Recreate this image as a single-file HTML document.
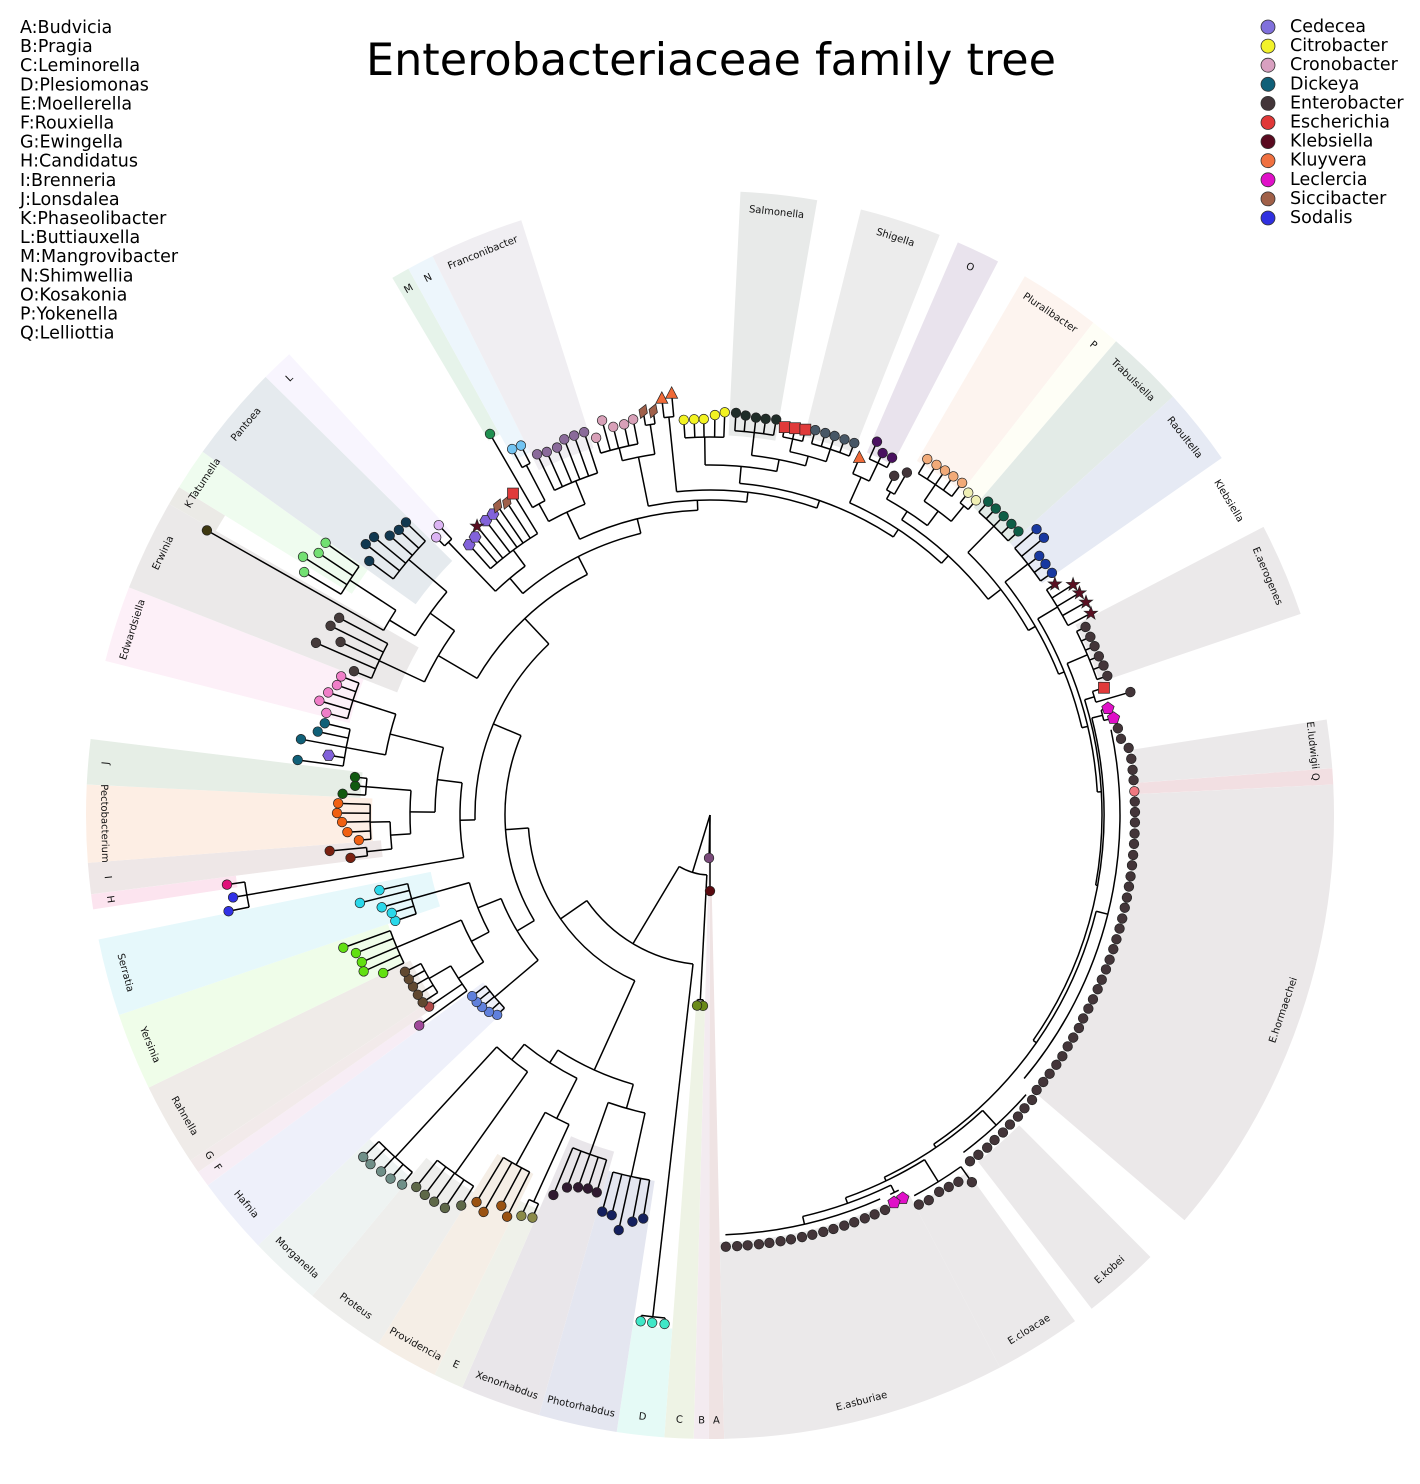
<!DOCTYPE html>
<html><head><meta charset="utf-8">
<style>
html,body{margin:0;padding:0;background:#fff;width:1420px;height:1484px;overflow:hidden;}
svg{display:block;overflow:hidden;font-family:"DejaVu Sans","Liberation Sans",sans-serif;}
.w circle{fill:none;}
.b line,.b circle{stroke:#000;stroke-width:1.5;fill:none;}
.m circle,.m use{stroke:#222;stroke-width:0.7;}
.lb text{font-size:10px;text-anchor:middle;dominant-baseline:central;fill:#111;}
.lg text{font-size:17.5px;dominant-baseline:central;fill:#000;}
</style></head><body>
<svg width="1420" height="1484" viewBox="0 0 1420 1484" xmlns="http://www.w3.org/2000/svg">
<defs>
<clipPath id="cp"><rect x="0" y="0" width="1420" height="1484"/></clipPath>
<rect id="sq" x="-5.5" y="-5.5" width="11" height="11"/>
<polygon id="tri" points="0,-7 6,4.5 -6,4.5"/>
<polygon id="dia" points="0,-7.5 4.5,0 0,7.5 -4.5,0"/>
<polygon id="star" points="0,-7 1.65,-2.27 6.66,-2.16 2.66,0.87 4.11,5.66 0,2.8 -4.11,5.66 -2.66,0.87 -6.66,-2.16 -1.65,-2.27"/>
<polygon id="hex" points="6,0 3,5.2 -3,5.2 -6,0 -3,-5.2 3,-5.2"/>
<polygon id="pent" points="0,-6.5 6.18,-2.01 3.82,5.26 -3.82,5.26 -6.18,-2.01"/>
</defs>

<text x="711" y="75" font-size="44.5" text-anchor="middle" fill="#000">Enterobacteriaceae family tree</text>

<g class="lg">
<text x="20" y="28">A:Budvicia</text>
<text x="20" y="47.1">B:Pragia</text>
<text x="20" y="66.2">C:Leminorella</text>
<text x="20" y="85.3">D:Plesiomonas</text>
<text x="20" y="104.4">E:Moellerella</text>
<text x="20" y="123.5">F:Rouxiella</text>
<text x="20" y="142.6">G:Ewingella</text>
<text x="20" y="161.7">H:Candidatus</text>
<text x="20" y="180.8">I:Brenneria</text>
<text x="20" y="199.9">J:Lonsdalea</text>
<text x="20" y="219">K:Phaseolibacter</text>
<text x="20" y="238.1">L:Buttiauxella</text>
<text x="20" y="257.2">M:Mangrovibacter</text>
<text x="20" y="276.3">N:Shimwellia</text>
<text x="20" y="295.4">O:Kosakonia</text>
<text x="20" y="314.5">P:Yokenella</text>
<text x="20" y="333.6">Q:Lelliottia</text>
</g>

<g class="lg">
<g stroke="#333" stroke-width="0.8">
<circle cx="1268" cy="27" r="7" fill="#8070dc"/>
<circle cx="1268" cy="46.1" r="7" fill="#f2f22a"/>
<circle cx="1268" cy="65.2" r="7" fill="#d8a0c0"/>
<circle cx="1268" cy="84.3" r="7" fill="#106078"/>
<circle cx="1268" cy="103.4" r="7" fill="#433539"/>
<circle cx="1268" cy="122.5" r="7" fill="#e03838"/>
<circle cx="1268" cy="141.6" r="7" fill="#5a0a20"/>
<circle cx="1268" cy="160.7" r="7" fill="#f07040"/>
<circle cx="1268" cy="179.8" r="7" fill="#e010c8"/>
<circle cx="1268" cy="198.9" r="7" fill="#a06048"/>
<circle cx="1268" cy="218" r="7" fill="#3030e0"/>
</g>
<text x="1290" y="27">Cedecea</text>
<text x="1290" y="46.1">Citrobacter</text>
<text x="1290" y="65.2">Cronobacter</text>
<text x="1290" y="84.3">Dickeya</text>
<text x="1290" y="103.4">Enterobacter</text>
<text x="1290" y="122.5">Escherichia</text>
<text x="1290" y="141.6">Klebsiella</text>
<text x="1290" y="160.7">Kluyvera</text>
<text x="1290" y="179.8">Leclercia</text>
<text x="1290" y="198.9">Siccibacter</text>
<text x="1290" y="218">Sodalis</text>
</g>

<g clip-path="url(#cp)">
<g transform="translate(710,815)">

<g class="w">
<circle r="352" stroke-width="544" stroke="#efe3e3" pathLength="360" stroke-dasharray="1.4 999" transform="rotate(88.7)"/>
<circle r="335.5" stroke-width="577" stroke="#f3ebf0" pathLength="360" stroke-dasharray="1.4 999" transform="rotate(90.1)"/>
<circle r="409.5" stroke-width="429" stroke="#eef3e5" pathLength="360" stroke-dasharray="2.7 999" transform="rotate(91.5)"/>
<circle r="569.5" stroke-width="109" stroke="#e5faf6" pathLength="360" stroke-dasharray="4.4 999" transform="rotate(94.2)"/>
<circle r="497" stroke-width="254" stroke="#e4e6f0" pathLength="360" stroke-dasharray="7.3 999" transform="rotate(98.6)"/>
<circle r="487" stroke-width="274" stroke="#e9e6ea" pathLength="360" stroke-dasharray="7.5 999" transform="rotate(105.9)"/>
<circle r="527" stroke-width="194" stroke="#eff1ea" pathLength="360" stroke-dasharray="2.8 999" transform="rotate(113.4)"/>
<circle r="512" stroke-width="224" stroke="#f5eee6" pathLength="360" stroke-dasharray="5.9 999" transform="rotate(116.2)"/>
<circle r="534.5" stroke-width="179" stroke="#eeeeec" pathLength="360" stroke-dasharray="7.5 999" transform="rotate(122.1)"/>
<circle r="547" stroke-width="154" stroke="#eef3f2" pathLength="360" stroke-dasharray="6.8 999" transform="rotate(129.6)"/>
<circle r="453" stroke-width="342" stroke="#eef0fa" pathLength="360" stroke-dasharray="7.2 999" transform="rotate(136.4)"/>
<circle r="488" stroke-width="272" stroke="#f7edf5" pathLength="360" stroke-dasharray="1.5 999" transform="rotate(143.6)"/>
<circle r="478.5" stroke-width="291" stroke="#f2eaea" pathLength="360" stroke-dasharray="1.3 999" transform="rotate(145.1)"/>
<circle r="478.5" stroke-width="291" stroke="#efebe8" pathLength="360" stroke-dasharray="7.7 999" transform="rotate(146.4)"/>
<circle r="482" stroke-width="284" stroke="#effde9" pathLength="360" stroke-dasharray="7.2 999" transform="rotate(154.1)"/>
<circle r="454.5" stroke-width="339" stroke="#e6f8fb" pathLength="360" stroke-dasharray="7.2 999" transform="rotate(161.3)"/>
<circle r="551" stroke-width="146" stroke="#fce4ef" pathLength="360" stroke-dasharray="1.4 999" transform="rotate(171.3)"/>
<circle r="477" stroke-width="294" stroke="#eee7e7" pathLength="360" stroke-dasharray="2.9 999" transform="rotate(172.7)"/>
<circle r="481" stroke-width="286" stroke="#fdeee4" pathLength="360" stroke-dasharray="7.2 999" transform="rotate(175.6)"/>
<circle r="487" stroke-width="274" stroke="#e6eee6" pathLength="360" stroke-dasharray="4.2 999" transform="rotate(182.8)"/>
<circle r="498" stroke-width="252" stroke="#fdf0f8" pathLength="360" stroke-dasharray="7.1 999" transform="rotate(194.3)"/>
<circle r="480" stroke-width="288" stroke="#ebe9e9" pathLength="360" stroke-dasharray="8.5 999" transform="rotate(201.4)"/>
<circle r="597" stroke-width="54" stroke="#ebeae6" pathLength="360" stroke-dasharray="1.8 999" transform="rotate(209.9)"/>
<circle r="522.5" stroke-width="203" stroke="#effcef" pathLength="360" stroke-dasharray="3.9 999" transform="rotate(211.7)"/>
<circle r="493" stroke-width="262" stroke="#e5eaee" pathLength="360" stroke-dasharray="9 999" transform="rotate(215.6)"/>
<circle r="504.5" stroke-width="239" stroke="#f8f5fe" pathLength="360" stroke-dasharray="3 999" transform="rotate(224.6)"/>
<circle r="529.5" stroke-width="189" stroke="#e6f3ea" pathLength="360" stroke-dasharray="1.7 999" transform="rotate(239.4)"/>
<circle r="514.5" stroke-width="219" stroke="#edf6fc" pathLength="360" stroke-dasharray="2.5 999" transform="rotate(241.1)"/>
<circle r="504.5" stroke-width="239" stroke="#f0eef2" pathLength="360" stroke-dasharray="8.8 999" transform="rotate(243.6)"/>
<circle r="502" stroke-width="244" stroke="#e8eae9" pathLength="360" stroke-dasharray="7.1 999" transform="rotate(272.8)"/>
<circle r="507" stroke-width="234" stroke="#ececec" pathLength="360" stroke-dasharray="7.6 999" transform="rotate(284)"/>
<circle r="509.5" stroke-width="229" stroke="#e9e3ed" pathLength="360" stroke-dasharray="4.1 999" transform="rotate(293.4)"/>
<circle r="517" stroke-width="214" stroke="#fdf4ef" pathLength="360" stroke-dasharray="7.6 999" transform="rotate(300.3)"/>
<circle r="514.5" stroke-width="219" stroke="#fefef6" pathLength="360" stroke-dasharray="2.7 999" transform="rotate(307.9)"/>
<circle r="514.5" stroke-width="219" stroke="#e3ebe7" pathLength="360" stroke-dasharray="7.3 999" transform="rotate(310.6)"/>
<circle r="514.5" stroke-width="219" stroke="#e6eaf4" pathLength="360" stroke-dasharray="7.2 999" transform="rotate(317.9)"/>
<circle r="518" stroke-width="212" stroke="#ebe9ea" pathLength="360" stroke-dasharray="8.7 999" transform="rotate(332.5)"/>
<circle r="526" stroke-width="196" stroke="#ebe9ea" pathLength="360" stroke-dasharray="4.5 999" transform="rotate(351.2)"/>
<circle r="526" stroke-width="196" stroke="#f2dfe2" pathLength="360" stroke-dasharray="1.5 999" transform="rotate(355.7)"/>
<circle r="524" stroke-width="200" stroke="#ebe8e9" pathLength="360" stroke-dasharray="43.3 999" transform="rotate(357.2)"/>
<circle r="531" stroke-width="186" stroke="#ebe9ea" pathLength="360" stroke-dasharray="7.2 999" transform="rotate(405.1)"/>
<circle r="532" stroke-width="184" stroke="#ebe9ea" pathLength="360" stroke-dasharray="8.1 999" transform="rotate(414.2)"/>
<circle r="525.5" stroke-width="197" stroke="#ebe9ea" pathLength="360" stroke-dasharray="26.4 999" transform="rotate(422.3)"/>
</g>

<g class="b">
<line x1="0" x2="76" transform="rotate(90)"/>
<line x1="0" x2="43" transform="rotate(91.3)"/>
<line x1="0" x2="60" transform="rotate(107)"/>
<circle r="60" pathLength="360" stroke-dasharray="27.9 999" transform="rotate(93)"/>
<line x1="60" x2="185" transform="rotate(93)"/>
<line x1="60" x2="150" transform="rotate(120.9)"/>
<circle r="185" pathLength="360" stroke-dasharray="1.8 999" transform="rotate(92.1)"/>
<line x1="185" x2="191" transform="rotate(92.1)"/>
<line x1="185" x2="191" transform="rotate(93.9)"/>
<circle r="150" pathLength="360" stroke-dasharray="48.7 999" transform="rotate(96.5)"/>
<line x1="150" x2="505" transform="rotate(96.5)"/>
<line x1="150" x2="182" transform="rotate(145.2)"/>
<circle r="505" pathLength="360" stroke-dasharray="2.7 999" transform="rotate(95.1)"/>
<line x1="505" x2="511" transform="rotate(95.1)"/>
<line x1="505" x2="511" transform="rotate(97.8)"/>
<circle r="182" pathLength="360" stroke-dasharray="61.5 999" transform="rotate(114.4)"/>
<line x1="182" x2="280" transform="rotate(114.4)"/>
<line x1="182" x2="205" transform="rotate(175.9)"/>
<circle r="280" pathLength="360" stroke-dasharray="17 999" transform="rotate(105.9)"/>
<line x1="280" x2="305" transform="rotate(105.9)"/>
<line x1="280" x2="295" transform="rotate(122.9)"/>
<circle r="305" pathLength="360" stroke-dasharray="7.2 999" transform="rotate(102.3)"/>
<line x1="305" x2="370" transform="rotate(102.3)"/>
<line x1="305" x2="360" transform="rotate(109.5)"/>
<circle r="370" pathLength="360" stroke-dasharray="5.8 999" transform="rotate(99.4)"/>
<line x1="370" x2="409" transform="rotate(99.4)"/>
<line x1="370" x2="414" transform="rotate(100.8)"/>
<line x1="370" x2="425" transform="rotate(102.4)"/>
<line x1="370" x2="412" transform="rotate(103.8)"/>
<line x1="370" x2="411" transform="rotate(105.2)"/>
<circle r="360" pathLength="360" stroke-dasharray="5.7 999" transform="rotate(106.7)"/>
<line x1="360" x2="394" transform="rotate(106.7)"/>
<line x1="360" x2="393" transform="rotate(108.1)"/>
<line x1="360" x2="395" transform="rotate(109.5)"/>
<line x1="360" x2="399" transform="rotate(111)"/>
<line x1="360" x2="411" transform="rotate(112.4)"/>
<circle r="295" pathLength="360" stroke-dasharray="12.2 999" transform="rotate(116.8)"/>
<line x1="295" x2="340" transform="rotate(116.8)"/>
<line x1="295" x2="315" transform="rotate(129)"/>
<circle r="340" pathLength="360" stroke-dasharray="4.5 999" transform="rotate(114.5)"/>
<line x1="340" x2="425" transform="rotate(114.5)"/>
<line x1="340" x2="400" transform="rotate(119)"/>
<circle r="425" pathLength="360" stroke-dasharray="1.4 999" transform="rotate(113.8)"/>
<line x1="425" x2="440" transform="rotate(113.8)"/>
<line x1="425" x2="443" transform="rotate(115.2)"/>
<circle r="400" pathLength="360" stroke-dasharray="4.3 999" transform="rotate(116.8)"/>
<line x1="400" x2="450" transform="rotate(116.8)"/>
<line x1="400" x2="443" transform="rotate(118.1)"/>
<line x1="400" x2="457" transform="rotate(119.7)"/>
<line x1="400" x2="452" transform="rotate(121.1)"/>
<circle r="315" pathLength="360" stroke-dasharray="7.2 999" transform="rotate(125.4)"/>
<line x1="315" x2="440" transform="rotate(125.4)"/>
<line x1="315" x2="465" transform="rotate(132.6)"/>
<circle r="440" pathLength="360" stroke-dasharray="5.8 999" transform="rotate(122.5)"/>
<line x1="440" x2="463" transform="rotate(122.5)"/>
<line x1="440" x2="474" transform="rotate(124)"/>
<line x1="440" x2="475" transform="rotate(125.5)"/>
<line x1="440" x2="475" transform="rotate(126.9)"/>
<line x1="440" x2="474" transform="rotate(128.3)"/>
<circle r="465" pathLength="360" stroke-dasharray="5.6 999" transform="rotate(129.8)"/>
<line x1="465" x2="481" transform="rotate(129.8)"/>
<line x1="465" x2="484" transform="rotate(131.3)"/>
<line x1="465" x2="485" transform="rotate(132.7)"/>
<line x1="465" x2="487" transform="rotate(134.2)"/>
<line x1="465" x2="487" transform="rotate(135.4)"/>
<circle r="205" pathLength="360" stroke-dasharray="53.8 999" transform="rotate(149)"/>
<line x1="205" x2="225" transform="rotate(149)"/>
<line x1="205" x2="235" transform="rotate(202.8)"/>
<circle r="225" pathLength="360" stroke-dasharray="18.4 999" transform="rotate(139.8)"/>
<line x1="225" x2="282" transform="rotate(139.8)"/>
<line x1="225" x2="250" transform="rotate(158.2)"/>
<circle r="282" pathLength="360" stroke-dasharray="5.9 999" transform="rotate(136.8)"/>
<line x1="282" x2="292" transform="rotate(136.8)"/>
<line x1="282" x2="296" transform="rotate(138.3)"/>
<line x1="282" x2="298" transform="rotate(139.9)"/>
<line x1="282" x2="299" transform="rotate(141.3)"/>
<line x1="282" x2="299" transform="rotate(142.7)"/>
<circle r="250" pathLength="360" stroke-dasharray="12.2 999" transform="rotate(152.1)"/>
<line x1="250" x2="270" transform="rotate(152.1)"/>
<line x1="250" x2="310" transform="rotate(164.3)"/>
<circle r="310" pathLength="360" stroke-dasharray="5.8 999" transform="rotate(161.4)"/>
<line x1="310" x2="332" transform="rotate(161.4)"/>
<line x1="310" x2="333" transform="rotate(162.9)"/>
<line x1="310" x2="341" transform="rotate(164.3)"/>
<line x1="310" x2="361" transform="rotate(165.9)"/>
<line x1="310" x2="339" transform="rotate(167.2)"/>
<circle r="270" pathLength="360" stroke-dasharray="10.1 999" transform="rotate(147)"/>
<line x1="270" x2="300" transform="rotate(147)"/>
<line x1="270" x2="340" transform="rotate(157.1)"/>
<circle r="340" pathLength="360" stroke-dasharray="5.9 999" transform="rotate(154.2)"/>
<line x1="340" x2="363" transform="rotate(154.2)"/>
<line x1="340" x2="380" transform="rotate(155.7)"/>
<line x1="340" x2="378" transform="rotate(157.1)"/>
<line x1="340" x2="380" transform="rotate(158.7)"/>
<line x1="340" x2="390" transform="rotate(160.1)"/>
<circle r="300" pathLength="360" stroke-dasharray="5.7 999" transform="rotate(144.1)"/>
<line x1="300" x2="359" transform="rotate(144.1)"/>
<line x1="300" x2="340" transform="rotate(145.7)"/>
<line x1="300" x2="325" transform="rotate(149.8)"/>
<circle r="325" pathLength="360" stroke-dasharray="5.9 999" transform="rotate(146.9)"/>
<line x1="325" x2="343" transform="rotate(146.9)"/>
<line x1="325" x2="343" transform="rotate(148.4)"/>
<line x1="325" x2="343" transform="rotate(150)"/>
<line x1="325" x2="343" transform="rotate(151.4)"/>
<line x1="325" x2="343" transform="rotate(152.8)"/>
<circle r="235" pathLength="360" stroke-dasharray="47.9 999" transform="rotate(178.8)"/>
<line x1="235" x2="250" transform="rotate(178.8)"/>
<line x1="235" x2="270" transform="rotate(226.7)"/>
<circle r="250" pathLength="360" stroke-dasharray="17.2 999" transform="rotate(170.2)"/>
<line x1="250" x2="470" transform="rotate(170.2)"/>
<line x1="250" x2="275" transform="rotate(187.4)"/>
<circle r="470" pathLength="360" stroke-dasharray="3.1 999" transform="rotate(168.7)"/>
<line x1="470" x2="491" transform="rotate(168.7)"/>
<line x1="470" x2="484" transform="rotate(170.2)"/>
<line x1="470" x2="488" transform="rotate(171.8)"/>
<circle r="275" pathLength="360" stroke-dasharray="13.6 999" transform="rotate(180.6)"/>
<line x1="275" x2="300" transform="rotate(180.6)"/>
<line x1="275" x2="330" transform="rotate(194.2)"/>
<circle r="300" pathLength="360" stroke-dasharray="8.3 999" transform="rotate(176.4)"/>
<line x1="300" x2="320" transform="rotate(176.4)"/>
<line x1="300" x2="345" transform="rotate(184.7)"/>
<circle r="320" pathLength="360" stroke-dasharray="4.9 999" transform="rotate(173.9)"/>
<line x1="320" x2="345" transform="rotate(173.9)"/>
<line x1="320" x2="340" transform="rotate(178.8)"/>
<circle r="345" pathLength="360" stroke-dasharray="1.4 999" transform="rotate(173.2)"/>
<line x1="345" x2="362" transform="rotate(173.2)"/>
<line x1="345" x2="382" transform="rotate(174.6)"/>
<circle r="340" pathLength="360" stroke-dasharray="5.9 999" transform="rotate(175.9)"/>
<line x1="340" x2="352" transform="rotate(175.9)"/>
<line x1="340" x2="363" transform="rotate(177.3)"/>
<line x1="340" x2="368" transform="rotate(178.9)"/>
<line x1="340" x2="373" transform="rotate(180.3)"/>
<line x1="340" x2="372" transform="rotate(181.8)"/>
<circle r="345" pathLength="360" stroke-dasharray="2.8 999" transform="rotate(183.3)"/>
<line x1="345" x2="368" transform="rotate(183.3)"/>
<line x1="345" x2="356" transform="rotate(184.7)"/>
<line x1="345" x2="357" transform="rotate(186.1)"/>
<circle r="330" pathLength="360" stroke-dasharray="7.3 999" transform="rotate(190.5)"/>
<line x1="330" x2="370" transform="rotate(190.5)"/>
<line x1="330" x2="375" transform="rotate(197.8)"/>
<circle r="370" pathLength="360" stroke-dasharray="5.8 999" transform="rotate(187.6)"/>
<line x1="370" x2="416" transform="rotate(187.6)"/>
<line x1="370" x2="386" transform="rotate(188.9)"/>
<line x1="370" x2="416" transform="rotate(190.5)"/>
<line x1="370" x2="401" transform="rotate(192)"/>
<line x1="370" x2="396" transform="rotate(193.4)"/>
<circle r="375" pathLength="360" stroke-dasharray="5.7 999" transform="rotate(194.9)"/>
<line x1="375" x2="397" transform="rotate(194.9)"/>
<line x1="375" x2="407" transform="rotate(196.3)"/>
<line x1="375" x2="401" transform="rotate(197.8)"/>
<line x1="375" x2="395" transform="rotate(199.2)"/>
<line x1="375" x2="394" transform="rotate(200.6)"/>
<circle r="270" pathLength="360" stroke-dasharray="32.6 999" transform="rotate(210.4)"/>
<line x1="270" x2="315" transform="rotate(210.4)"/>
<line x1="270" x2="290" transform="rotate(243)"/>
<circle r="315" pathLength="360" stroke-dasharray="10.8 999" transform="rotate(205)"/>
<line x1="315" x2="365" transform="rotate(205)"/>
<line x1="315" x2="345" transform="rotate(215.8)"/>
<circle r="365" pathLength="360" stroke-dasharray="6 999" transform="rotate(202)"/>
<line x1="365" x2="384" transform="rotate(202)"/>
<line x1="365" x2="430" transform="rotate(203.6)"/>
<line x1="365" x2="408" transform="rotate(205.1)"/>
<line x1="365" x2="424" transform="rotate(206.5)"/>
<line x1="365" x2="420" transform="rotate(208)"/>
<circle r="345" pathLength="360" stroke-dasharray="9 999" transform="rotate(211.3)"/>
<line x1="345" x2="375" transform="rotate(211.3)"/>
<line x1="345" x2="395" transform="rotate(220.3)"/>
<circle r="375" pathLength="360" stroke-dasharray="3.6 999" transform="rotate(209.5)"/>
<line x1="375" x2="578" transform="rotate(209.5)"/>
<line x1="375" x2="430" transform="rotate(213.1)"/>
<circle r="430" pathLength="360" stroke-dasharray="4.4 999" transform="rotate(210.9)"/>
<line x1="430" x2="473" transform="rotate(210.9)"/>
<line x1="430" x2="482" transform="rotate(212.4)"/>
<line x1="430" x2="471" transform="rotate(213.8)"/>
<line x1="430" x2="471" transform="rotate(215.3)"/>
<circle r="395" pathLength="360" stroke-dasharray="7.2 999" transform="rotate(216.7)"/>
<line x1="395" x2="425" transform="rotate(216.7)"/>
<line x1="395" x2="438" transform="rotate(218.2)"/>
<line x1="395" x2="436" transform="rotate(219.6)"/>
<line x1="395" x2="425" transform="rotate(221.1)"/>
<line x1="395" x2="422" transform="rotate(222.5)"/>
<line x1="395" x2="422" transform="rotate(223.9)"/>
<circle r="290" pathLength="360" stroke-dasharray="26.4 999" transform="rotate(229.8)"/>
<line x1="290" x2="310" transform="rotate(229.8)"/>
<line x1="290" x2="305" transform="rotate(256.2)"/>
<circle r="310" pathLength="360" stroke-dasharray="7.2 999" transform="rotate(226.2)"/>
<line x1="310" x2="378" transform="rotate(226.2)"/>
<line x1="310" x2="330" transform="rotate(233.4)"/>
<circle r="378" pathLength="360" stroke-dasharray="1.5 999" transform="rotate(225.4)"/>
<line x1="378" x2="390" transform="rotate(225.4)"/>
<line x1="378" x2="397" transform="rotate(226.9)"/>
<circle r="330" pathLength="360" stroke-dasharray="10.2 999" transform="rotate(228.3)"/>
<line x1="330" x2="362" transform="rotate(228.3)"/>
<line x1="330" x2="364" transform="rotate(229.8)"/>
<line x1="330" x2="371" transform="rotate(231.1)"/>
<line x1="330" x2="370" transform="rotate(232.7)"/>
<line x1="330" x2="371" transform="rotate(234.2)"/>
<line x1="330" x2="375" transform="rotate(235.5)"/>
<line x1="330" x2="373" transform="rotate(237)"/>
<line x1="330" x2="377" transform="rotate(238.5)"/>
<circle r="305" pathLength="360" stroke-dasharray="23 999" transform="rotate(244.7)"/>
<line x1="305" x2="335" transform="rotate(244.7)"/>
<line x1="305" x2="315" transform="rotate(267.7)"/>
<circle r="335" pathLength="360" stroke-dasharray="6.9 999" transform="rotate(241.2)"/>
<line x1="335" x2="355" transform="rotate(241.2)"/>
<line x1="335" x2="360" transform="rotate(248.1)"/>
<circle r="355" pathLength="360" stroke-dasharray="2.3 999" transform="rotate(240)"/>
<line x1="355" x2="440" transform="rotate(240)"/>
<line x1="355" x2="395" transform="rotate(242.3)"/>
<circle r="395" pathLength="360" stroke-dasharray="1.3 999" transform="rotate(241.6)"/>
<line x1="395" x2="416" transform="rotate(241.6)"/>
<line x1="395" x2="415" transform="rotate(242.9)"/>
<circle r="360" pathLength="360" stroke-dasharray="7.4 999" transform="rotate(244.4)"/>
<line x1="360" x2="400" transform="rotate(244.4)"/>
<line x1="360" x2="398" transform="rotate(245.8)"/>
<line x1="360" x2="398" transform="rotate(247.4)"/>
<line x1="360" x2="403" transform="rotate(248.8)"/>
<line x1="360" x2="403" transform="rotate(250.3)"/>
<line x1="360" x2="403" transform="rotate(251.8)"/>
<circle r="315" pathLength="360" stroke-dasharray="18 999" transform="rotate(258.7)"/>
<line x1="315" x2="365" transform="rotate(258.7)"/>
<line x1="315" x2="325" transform="rotate(276.7)"/>
<circle r="365" pathLength="360" stroke-dasharray="5.2 999" transform="rotate(256.1)"/>
<line x1="365" x2="378" transform="rotate(256.1)"/>
<line x1="365" x2="395" transform="rotate(261.3)"/>
<circle r="378" pathLength="360" stroke-dasharray="5.8 999" transform="rotate(253.2)"/>
<line x1="378" x2="394" transform="rotate(253.2)"/>
<line x1="378" x2="409" transform="rotate(254.7)"/>
<line x1="378" x2="400" transform="rotate(256)"/>
<line x1="378" x2="400" transform="rotate(257.6)"/>
<line x1="378" x2="403" transform="rotate(259)"/>
<circle r="395" pathLength="360" stroke-dasharray="1.4 999" transform="rotate(260.6)"/>
<line x1="395" x2="409" transform="rotate(260.6)"/>
<line x1="395" x2="408" transform="rotate(262)"/>
<circle r="325" pathLength="360" stroke-dasharray="25.1 999" transform="rotate(264.1)"/>
<line x1="325" x2="400" transform="rotate(264.1)"/>
<line x1="325" x2="333" transform="rotate(289.2)"/>
<circle r="400" pathLength="360" stroke-dasharray="1.4 999" transform="rotate(263.4)"/>
<line x1="400" x2="419" transform="rotate(263.4)"/>
<line x1="400" x2="423" transform="rotate(264.8)"/>
<circle r="333" pathLength="360" stroke-dasharray="28.3 999" transform="rotate(275.1)"/>
<line x1="333" x2="350" transform="rotate(275.1)"/>
<line x1="333" x2="342" transform="rotate(303.4)"/>
<circle r="350" pathLength="360" stroke-dasharray="11.8 999" transform="rotate(269.2)"/>
<line x1="350" x2="378" transform="rotate(269.2)"/>
<line x1="350" x2="362" transform="rotate(281)"/>
<circle r="378" pathLength="360" stroke-dasharray="5.9 999" transform="rotate(266.2)"/>
<line x1="378" x2="396" transform="rotate(266.2)"/>
<line x1="378" x2="396" transform="rotate(267.7)"/>
<line x1="378" x2="396" transform="rotate(269.1)"/>
<line x1="378" x2="400" transform="rotate(270.7)"/>
<line x1="378" x2="403" transform="rotate(272.1)"/>
<circle r="362" pathLength="360" stroke-dasharray="8.7 999" transform="rotate(276.6)"/>
<line x1="362" x2="385" transform="rotate(276.6)"/>
<line x1="362" x2="372" transform="rotate(285.3)"/>
<circle r="385" pathLength="360" stroke-dasharray="5.8 999" transform="rotate(273.7)"/>
<line x1="385" x2="403" transform="rotate(273.7)"/>
<line x1="385" x2="401" transform="rotate(275.1)"/>
<line x1="385" x2="400" transform="rotate(276.6)"/>
<line x1="385" x2="400" transform="rotate(278)"/>
<line x1="385" x2="401" transform="rotate(279.5)"/>
<circle r="372" pathLength="360" stroke-dasharray="5.8 999" transform="rotate(282.4)"/>
<line x1="372" x2="385" transform="rotate(282.4)"/>
<line x1="372" x2="385" transform="rotate(288.2)"/>
<circle r="385" pathLength="360" stroke-dasharray="3 999" transform="rotate(280.9)"/>
<line x1="385" x2="396" transform="rotate(280.9)"/>
<line x1="385" x2="396" transform="rotate(282.4)"/>
<line x1="385" x2="397" transform="rotate(283.9)"/>
<circle r="385" pathLength="360" stroke-dasharray="5.9 999" transform="rotate(285.3)"/>
<line x1="385" x2="399" transform="rotate(285.3)"/>
<line x1="385" x2="399" transform="rotate(286.8)"/>
<line x1="385" x2="399" transform="rotate(288.2)"/>
<line x1="385" x2="399" transform="rotate(289.7)"/>
<line x1="385" x2="399" transform="rotate(291.2)"/>
<circle r="342" pathLength="360" stroke-dasharray="18.5 999" transform="rotate(294.1)"/>
<line x1="342" x2="370" transform="rotate(294.1)"/>
<line x1="342" x2="352" transform="rotate(312.6)"/>
<circle r="370" pathLength="360" stroke-dasharray="2.8 999" transform="rotate(292.7)"/>
<line x1="370" x2="387" transform="rotate(292.7)"/>
<line x1="370" x2="390" transform="rotate(295.5)"/>
<circle r="390" pathLength="360" stroke-dasharray="2.9 999" transform="rotate(294.1)"/>
<line x1="390" x2="409" transform="rotate(294.1)"/>
<line x1="390" x2="401" transform="rotate(295.5)"/>
<line x1="390" x2="401" transform="rotate(297)"/>
<circle r="352" pathLength="360" stroke-dasharray="19.2 999" transform="rotate(303)"/>
<line x1="352" x2="362" transform="rotate(303)"/>
<line x1="352" x2="368" transform="rotate(322.2)"/>
<circle r="362" pathLength="360" stroke-dasharray="7.7 999" transform="rotate(299.2)"/>
<line x1="362" x2="370" transform="rotate(299.2)"/>
<line x1="362" x2="380" transform="rotate(306.9)"/>
<circle r="370" pathLength="360" stroke-dasharray="1.4 999" transform="rotate(298.5)"/>
<line x1="370" x2="386" transform="rotate(298.5)"/>
<line x1="370" x2="395" transform="rotate(299.9)"/>
<circle r="380" pathLength="360" stroke-dasharray="5.1 999" transform="rotate(304.3)"/>
<line x1="380" x2="400" transform="rotate(304.3)"/>
<line x1="380" x2="400" transform="rotate(309.4)"/>
<circle r="400" pathLength="360" stroke-dasharray="5.8 999" transform="rotate(301.4)"/>
<line x1="400" x2="417" transform="rotate(301.4)"/>
<line x1="400" x2="417" transform="rotate(302.9)"/>
<line x1="400" x2="417" transform="rotate(304.3)"/>
<line x1="400" x2="417" transform="rotate(305.7)"/>
<line x1="400" x2="417" transform="rotate(307.2)"/>
<circle r="400" pathLength="360" stroke-dasharray="1.5 999" transform="rotate(308.7)"/>
<line x1="400" x2="413" transform="rotate(308.7)"/>
<line x1="400" x2="412" transform="rotate(310.2)"/>
<circle r="368" pathLength="360" stroke-dasharray="15.4 999" transform="rotate(314.5)"/>
<line x1="368" x2="405" transform="rotate(314.5)"/>
<line x1="368" x2="376" transform="rotate(329.9)"/>
<circle r="405" pathLength="360" stroke-dasharray="5.8 999" transform="rotate(311.6)"/>
<line x1="405" x2="419" transform="rotate(311.6)"/>
<line x1="405" x2="419" transform="rotate(313)"/>
<line x1="405" x2="419" transform="rotate(314.5)"/>
<line x1="405" x2="419" transform="rotate(316)"/>
<line x1="405" x2="419" transform="rotate(317.4)"/>
<circle r="376" pathLength="360" stroke-dasharray="16.3 999" transform="rotate(321.7)"/>
<line x1="376" x2="405" transform="rotate(321.7)"/>
<line x1="376" x2="382" transform="rotate(338)"/>
<circle r="405" pathLength="360" stroke-dasharray="5.9 999" transform="rotate(318.8)"/>
<line x1="405" x2="434" transform="rotate(318.8)"/>
<line x1="405" x2="434" transform="rotate(320.3)"/>
<line x1="405" x2="419" transform="rotate(321.8)"/>
<line x1="405" x2="419" transform="rotate(323.2)"/>
<line x1="405" x2="419" transform="rotate(324.7)"/>
<circle r="382" pathLength="360" stroke-dasharray="17.7 999" transform="rotate(329.1)"/>
<line x1="382" x2="405" transform="rotate(329.1)"/>
<line x1="382" x2="388" transform="rotate(346.8)"/>
<circle r="405" pathLength="360" stroke-dasharray="5.9 999" transform="rotate(326.2)"/>
<line x1="405" x2="415" transform="rotate(326.2)"/>
<line x1="405" x2="430" transform="rotate(327.6)"/>
<line x1="405" x2="431" transform="rotate(329)"/>
<line x1="405" x2="432" transform="rotate(330.5)"/>
<line x1="405" x2="431" transform="rotate(332.1)"/>
<circle r="388" pathLength="360" stroke-dasharray="19.6 999" transform="rotate(337)"/>
<line x1="388" x2="410" transform="rotate(337)"/>
<line x1="388" x2="392" transform="rotate(356.6)"/>
<circle r="410" pathLength="360" stroke-dasharray="7.3 999" transform="rotate(333.4)"/>
<line x1="410" x2="420" transform="rotate(333.4)"/>
<line x1="410" x2="420" transform="rotate(334.9)"/>
<line x1="410" x2="420" transform="rotate(336.3)"/>
<line x1="410" x2="420" transform="rotate(337.8)"/>
<line x1="410" x2="420" transform="rotate(339.2)"/>
<line x1="410" x2="420" transform="rotate(340.7)"/>
<circle r="392" pathLength="360" stroke-dasharray="27.4 999" transform="rotate(342.9)"/>
<line x1="392" x2="402" transform="rotate(342.9)"/>
<line x1="392" x2="394" transform="rotate(370.3)"/>
<circle r="402" pathLength="360" stroke-dasharray="1.6 999" transform="rotate(342.1)"/>
<line x1="402" x2="414" transform="rotate(342.1)"/>
<line x1="402" x2="438" transform="rotate(343.7)"/>
<circle r="394" pathLength="360" stroke-dasharray="49.15 999" transform="rotate(345.75)"/>
<line x1="394" x2="405" transform="rotate(345.75)"/>
<line x1="394" x2="398" transform="rotate(394.9)"/>
<circle r="405" pathLength="360" stroke-dasharray="1.5 999" transform="rotate(345)"/>
<line x1="405" x2="412" transform="rotate(345)"/>
<line x1="405" x2="415" transform="rotate(346.5)"/>
<circle r="398" pathLength="360" stroke-dasharray="41.8 999" transform="rotate(374)"/>
<line x1="398" x2="410" transform="rotate(374)"/>
<line x1="398" x2="402" transform="rotate(415.8)"/>
<circle r="410" pathLength="360" stroke-dasharray="52 999" transform="rotate(348)"/>
<circle r="402" pathLength="360" stroke-dasharray="17 999" transform="rotate(407.3)"/>
<line x1="402" x2="422" transform="rotate(407.3)"/>
<line x1="402" x2="406" transform="rotate(424.3)"/>
<circle r="422" pathLength="360" stroke-dasharray="11.6 999" transform="rotate(401.5)"/>
<circle r="406" pathLength="360" stroke-dasharray="12.4 999" transform="rotate(418.1)"/>
<line x1="406" x2="432" transform="rotate(418.1)"/>
<line x1="406" x2="412" transform="rotate(430.5)"/>
<circle r="432" pathLength="360" stroke-dasharray="7.3 999" transform="rotate(414.5)"/>
<line x1="432" x2="451" transform="rotate(414.5)"/>
<circle r="412" pathLength="360" stroke-dasharray="13.05 999" transform="rotate(423.95)"/>
<line x1="412" x2="420" transform="rotate(423.95)"/>
<line x1="412" x2="420" transform="rotate(437)"/>
<circle r="420" pathLength="360" stroke-dasharray="1.3 999" transform="rotate(423.3)"/>
<circle r="420" pathLength="360" stroke-dasharray="21.8 999" transform="rotate(426.1)"/>
</g>

<g class="m">
<circle fill="#5a0a10" r="4.8" transform="rotate(90) translate(76)"/>
<circle fill="#7a4a7a" r="4.8" transform="rotate(91.3) translate(43)"/>
<g fill="#6a8a1a"><circle r="4.8" transform="rotate(92.1) translate(191)"/><circle r="4.8" transform="rotate(93.9) translate(191)"/></g>
<g fill="#40e8c8"><circle r="4.8" transform="rotate(95.1) translate(511)"/><circle r="4.8" transform="rotate(96.5) translate(511)"/><circle r="4.8" transform="rotate(97.8) translate(511)"/></g>
<g fill="#14205e"><circle r="4.8" transform="rotate(99.4) translate(409)"/><circle r="4.8" transform="rotate(100.8) translate(414)"/><circle r="4.8" transform="rotate(102.4) translate(425)"/><circle r="4.8" transform="rotate(103.8) translate(412)"/><circle r="4.8" transform="rotate(105.2) translate(411)"/></g>
<g fill="#301a30"><circle r="4.8" transform="rotate(106.7) translate(394)"/><circle r="4.8" transform="rotate(108.1) translate(393)"/><circle r="4.8" transform="rotate(109.5) translate(395)"/><circle r="4.8" transform="rotate(111) translate(399)"/><circle r="4.8" transform="rotate(112.4) translate(411)"/></g>
<g fill="#8a8a48"><circle r="4.8" transform="rotate(113.8) translate(440)"/><circle r="4.8" transform="rotate(115.2) translate(443)"/></g>
<g fill="#9a5212"><circle r="4.8" transform="rotate(116.8) translate(450)"/><circle r="4.8" transform="rotate(118.1) translate(443)"/><circle r="4.8" transform="rotate(119.7) translate(457)"/><circle r="4.8" transform="rotate(121.1) translate(452)"/></g>
<g fill="#5e6848"><circle r="4.8" transform="rotate(122.5) translate(463)"/><circle r="4.8" transform="rotate(124) translate(474)"/><circle r="4.8" transform="rotate(125.5) translate(475)"/><circle r="4.8" transform="rotate(126.9) translate(475)"/><circle r="4.8" transform="rotate(128.3) translate(474)"/></g>
<g fill="#6f8f88"><circle r="4.8" transform="rotate(129.8) translate(481)"/><circle r="4.8" transform="rotate(131.3) translate(484)"/><circle r="4.8" transform="rotate(132.7) translate(485)"/><circle r="4.8" transform="rotate(134.2) translate(487)"/><circle r="4.8" transform="rotate(135.4) translate(487)"/></g>
<g fill="#6080dc"><circle r="4.8" transform="rotate(136.8) translate(292)"/><circle r="4.8" transform="rotate(138.3) translate(296)"/><circle r="4.8" transform="rotate(139.9) translate(298)"/><circle r="4.8" transform="rotate(141.3) translate(299)"/><circle r="4.8" transform="rotate(142.7) translate(299)"/></g>
<circle fill="#a0489a" r="4.8" transform="rotate(144.1) translate(359)"/>
<circle fill="#b04848" r="4.8" transform="rotate(145.7) translate(340)"/>
<g fill="#604830"><circle r="4.8" transform="rotate(146.9) translate(343)"/><circle r="4.8" transform="rotate(148.4) translate(343)"/><circle r="4.8" transform="rotate(150) translate(343)"/><circle r="4.8" transform="rotate(151.4) translate(343)"/><circle r="4.8" transform="rotate(152.8) translate(343)"/></g>
<g fill="#62e012"><circle r="4.8" transform="rotate(154.2) translate(363)"/><circle r="4.8" transform="rotate(155.7) translate(380)"/><circle r="4.8" transform="rotate(157.1) translate(378)"/><circle r="4.8" transform="rotate(158.7) translate(380)"/><circle r="4.8" transform="rotate(160.1) translate(390)"/></g>
<g fill="#2ad8ea"><circle r="4.8" transform="rotate(161.4) translate(332)"/><circle r="4.8" transform="rotate(162.9) translate(333)"/><circle r="4.8" transform="rotate(164.3) translate(341)"/><circle r="4.8" transform="rotate(165.9) translate(361)"/><circle r="4.8" transform="rotate(167.2) translate(339)"/></g>
<g fill="#3232e6"><circle r="4.8" transform="rotate(168.7) translate(491)"/><circle r="4.8" transform="rotate(170.2) translate(484)"/></g>
<circle fill="#e0107a" r="4.8" transform="rotate(171.8) translate(488)"/>
<g fill="#7a2010"><circle r="4.8" transform="rotate(173.2) translate(362)"/><circle r="4.8" transform="rotate(174.6) translate(382)"/></g>
<g fill="#f06012"><circle r="4.8" transform="rotate(175.9) translate(352)"/><circle r="4.8" transform="rotate(177.3) translate(363)"/><circle r="4.8" transform="rotate(178.9) translate(368)"/><circle r="4.8" transform="rotate(180.3) translate(373)"/><circle r="4.8" transform="rotate(181.8) translate(372)"/></g>
<g fill="#105a10"><circle r="4.8" transform="rotate(183.3) translate(368)"/><circle r="4.8" transform="rotate(184.7) translate(356)"/><circle r="4.8" transform="rotate(186.1) translate(357)"/></g>
<g fill="#106078"><circle r="4.8" transform="rotate(187.6) translate(416)"/><circle r="4.8" transform="rotate(190.5) translate(416)"/><circle r="4.8" transform="rotate(192) translate(401)"/><circle r="4.8" transform="rotate(193.4) translate(396)"/></g>
<use href="#hex" fill="#8262da" transform="rotate(188.9) translate(386) rotate(-188.9)"/>
<g fill="#f07ec8"><circle r="4.8" transform="rotate(194.9) translate(397)"/><circle r="4.8" transform="rotate(196.3) translate(407)"/><circle r="4.8" transform="rotate(197.8) translate(401)"/><circle r="4.8" transform="rotate(199.2) translate(395)"/><circle r="4.8" transform="rotate(200.6) translate(394)"/></g>
<g fill="#453a3a"><circle r="4.8" transform="rotate(202) translate(384)"/><circle r="4.8" transform="rotate(203.6) translate(430)"/><circle r="4.8" transform="rotate(205.1) translate(408)"/><circle r="4.8" transform="rotate(206.5) translate(424)"/><circle r="4.8" transform="rotate(208) translate(420)"/></g>
<circle fill="#3e3810" r="4.8" transform="rotate(209.5) translate(578)"/>
<g fill="#72e072"><circle r="4.8" transform="rotate(210.9) translate(473)"/><circle r="4.8" transform="rotate(212.4) translate(482)"/><circle r="4.8" transform="rotate(213.8) translate(471)"/><circle r="4.8" transform="rotate(215.3) translate(471)"/></g>
<g fill="#103850"><circle r="4.8" transform="rotate(216.7) translate(425)"/><circle r="4.8" transform="rotate(218.2) translate(438)"/><circle r="4.8" transform="rotate(219.6) translate(436)"/><circle r="4.8" transform="rotate(221.1) translate(425)"/><circle r="4.8" transform="rotate(222.5) translate(422)"/><circle r="4.8" transform="rotate(223.9) translate(422)"/></g>
<g fill="#dcb4f4"><circle r="4.8" transform="rotate(225.4) translate(390)"/><circle r="4.8" transform="rotate(226.9) translate(397)"/></g>
<g fill="#8262da"><use href="#hex" transform="rotate(228.3) translate(362) rotate(-228.3)"/><use href="#hex" transform="rotate(229.8) translate(364) rotate(-229.8)"/><use href="#hex" transform="rotate(232.7) translate(370) rotate(-232.7)"/><use href="#hex" transform="rotate(234.2) translate(371) rotate(-234.2)"/></g>
<use href="#star" fill="#5a0f22" transform="rotate(231.1) translate(371) rotate(-231.1)"/>
<g fill="#a0604a"><use href="#dia" transform="rotate(235.5) translate(375) rotate(-215)"/><use href="#dia" transform="rotate(237) translate(373) rotate(-217)"/></g>
<use href="#sq" fill="#e03a3a" transform="rotate(238.5) translate(377) rotate(-238.5)"/>
<circle fill="#209050" r="4.8" transform="rotate(240) translate(440)"/>
<g fill="#72c4f2"><circle r="4.8" transform="rotate(241.6) translate(416)"/><circle r="4.8" transform="rotate(242.9) translate(415)"/></g>
<g fill="#8a6a9a"><circle r="4.8" transform="rotate(244.4) translate(400)"/><circle r="4.8" transform="rotate(245.8) translate(398)"/><circle r="4.8" transform="rotate(247.4) translate(398)"/><circle r="4.8" transform="rotate(248.8) translate(403)"/><circle r="4.8" transform="rotate(250.3) translate(403)"/><circle r="4.8" transform="rotate(251.8) translate(403)"/></g>
<g fill="#d8a0b8"><circle r="4.8" transform="rotate(253.2) translate(394)"/><circle r="4.8" transform="rotate(254.7) translate(409)"/><circle r="4.8" transform="rotate(256) translate(400)"/><circle r="4.8" transform="rotate(257.6) translate(400)"/><circle r="4.8" transform="rotate(259) translate(403)"/></g>
<g fill="#a0604a"><use href="#dia" transform="rotate(260.6) translate(409) rotate(-240)"/><use href="#dia" transform="rotate(262) translate(408) rotate(-242)"/></g>
<g fill="#f06a38"><use href="#tri" transform="rotate(263.4) translate(419) rotate(-263.4)"/><use href="#tri" transform="rotate(264.8) translate(423) rotate(-264.8)"/></g>
<g fill="#f2f222"><circle r="4.8" transform="rotate(266.2) translate(396)"/><circle r="4.8" transform="rotate(267.7) translate(396)"/><circle r="4.8" transform="rotate(269.1) translate(396)"/><circle r="4.8" transform="rotate(270.7) translate(400)"/><circle r="4.8" transform="rotate(272.1) translate(403)"/></g>
<g fill="#1f2d28"><circle r="4.8" transform="rotate(273.7) translate(403)"/><circle r="4.8" transform="rotate(275.1) translate(401)"/><circle r="4.8" transform="rotate(276.6) translate(400)"/><circle r="4.8" transform="rotate(278) translate(400)"/><circle r="4.8" transform="rotate(279.5) translate(401)"/></g>
<g fill="#e03a3a"><use href="#sq" transform="rotate(280.9) translate(395) rotate(-280.9)"/><use href="#sq" transform="rotate(282.4) translate(396) rotate(-282.4)"/><use href="#sq" transform="rotate(283.9) translate(397) rotate(-283.9)"/></g>
<g fill="#475766"><circle r="4.8" transform="rotate(285.3) translate(399)"/><circle r="4.8" transform="rotate(286.8) translate(399)"/><circle r="4.8" transform="rotate(288.2) translate(399)"/><circle r="4.8" transform="rotate(289.7) translate(399)"/><circle r="4.8" transform="rotate(291.2) translate(399)"/></g>
<use href="#tri" fill="#f06a38" transform="rotate(292.7) translate(387) rotate(-292.7)"/>
<g fill="#4a1060"><circle r="4.8" transform="rotate(294.1) translate(409)"/><circle r="4.8" transform="rotate(295.5) translate(401)"/><circle r="4.8" transform="rotate(297) translate(401)"/></g>
<g fill="#433539"><circle r="4.8" transform="rotate(298.5) translate(386)"/><circle r="4.8" transform="rotate(299.9) translate(395)"/></g>
<g fill="#f2aa78"><circle r="4.8" transform="rotate(301.4) translate(417)"/><circle r="4.8" transform="rotate(302.9) translate(417)"/><circle r="4.8" transform="rotate(304.3) translate(417)"/><circle r="4.8" transform="rotate(305.7) translate(417)"/><circle r="4.8" transform="rotate(307.2) translate(417)"/></g>
<g fill="#f0f0b4"><circle r="4.8" transform="rotate(308.7) translate(413)"/><circle r="4.8" transform="rotate(310.2) translate(412)"/></g>
<g fill="#0e5e46"><circle r="4.8" transform="rotate(311.6) translate(419)"/><circle r="4.8" transform="rotate(313) translate(419)"/><circle r="4.8" transform="rotate(314.5) translate(419)"/><circle r="4.8" transform="rotate(316) translate(419)"/><circle r="4.8" transform="rotate(317.4) translate(419)"/></g>
<g fill="#1838a0"><circle r="4.8" transform="rotate(318.8) translate(434)"/><circle r="4.8" transform="rotate(320.3) translate(434)"/><circle r="4.8" transform="rotate(321.8) translate(419)"/><circle r="4.8" transform="rotate(323.2) translate(419)"/><circle r="4.8" transform="rotate(324.7) translate(419)"/></g>
<g fill="#5a0f22"><use href="#star" transform="rotate(326.2) translate(415) rotate(-326.2)"/><use href="#star" transform="rotate(327.6) translate(430) rotate(-327.6)"/><use href="#star" transform="rotate(329) translate(431) rotate(-329)"/><use href="#star" transform="rotate(330.5) translate(432) rotate(-330.5)"/><use href="#star" transform="rotate(332.1) translate(431) rotate(-332.1)"/></g>
<g fill="#433539"><circle r="4.8" transform="rotate(333.4) translate(420)"/><circle r="4.8" transform="rotate(334.9) translate(420)"/><circle r="4.8" transform="rotate(336.3) translate(420)"/><circle r="4.8" transform="rotate(337.8) translate(420)"/><circle r="4.8" transform="rotate(339.2) translate(421)"/><circle r="4.8" transform="rotate(340.7) translate(421)"/></g>
<use href="#sq" fill="#e03a3a" transform="rotate(342.1) translate(414) rotate(-342.1)"/>
<circle fill="#433539" r="4.8" transform="rotate(343.7) translate(438)"/>
<g fill="#e010c8"><use href="#pent" transform="rotate(345) translate(412) rotate(-345)"/><use href="#pent" transform="rotate(346.5) translate(415) rotate(-346.5)"/></g>
<g fill="#433539">
<circle r="4.8" transform="rotate(348) translate(417)"/>
<circle r="4.8" transform="rotate(349.5) translate(418)"/>
<circle r="4.8" transform="rotate(350.9) translate(424)"/>
<circle r="4.8" transform="rotate(352.4) translate(425)"/>
<circle r="4.8" transform="rotate(353.9) translate(425)"/>
<circle r="4.8" transform="rotate(355.3) translate(425)"/>
<circle r="4.8" transform="rotate(358.2) translate(425)"/>
<circle r="4.8" transform="rotate(359.6) translate(425)"/>
<circle r="4.8" transform="rotate(361) translate(425)"/>
<circle r="4.8" transform="rotate(362.5) translate(425)"/>
<circle r="4.8" transform="rotate(363.9) translate(425)"/>
<circle r="4.8" transform="rotate(365.4) translate(425)"/>
<circle r="4.8" transform="rotate(366.8) translate(425)"/>
<circle r="4.8" transform="rotate(368.3) translate(425)"/>
<circle r="4.8" transform="rotate(369.7) translate(425)"/>
<circle r="4.8" transform="rotate(371.2) translate(425)"/>
<circle r="4.8" transform="rotate(372.6) translate(425)"/>
<circle r="4.8" transform="rotate(374.1) translate(425)"/>
<circle r="4.8" transform="rotate(375.5) translate(425)"/>
<circle r="4.8" transform="rotate(377) translate(425)"/>
<circle r="4.8" transform="rotate(378.4) translate(425)"/>
<circle r="4.8" transform="rotate(379.9) translate(425)"/>
<circle r="4.8" transform="rotate(381.3) translate(425)"/>
<circle r="4.8" transform="rotate(382.8) translate(425)"/>
<circle r="4.8" transform="rotate(384.2) translate(425)"/>
<circle r="4.8" transform="rotate(385.7) translate(425)"/>
<circle r="4.8" transform="rotate(387.1) translate(425)"/>
<circle r="4.8" transform="rotate(388.6) translate(425)"/>
<circle r="4.8" transform="rotate(390) translate(426)"/>
<circle r="4.8" transform="rotate(391.5) translate(426)"/>
<circle r="4.8" transform="rotate(392.9) translate(426)"/>
<circle r="4.8" transform="rotate(394.4) translate(427)"/>
<circle r="4.8" transform="rotate(395.8) translate(427)"/>
<circle r="4.8" transform="rotate(397.3) translate(427)"/>
<circle r="4.8" transform="rotate(398.7) translate(427)"/>
<circle r="4.8" transform="rotate(400.1) translate(427)"/>
<circle r="4.8" transform="rotate(401.5) translate(430)"/>
<circle r="4.8" transform="rotate(403) translate(430)"/>
<circle r="4.8" transform="rotate(404.4) translate(431)"/>
<circle r="4.8" transform="rotate(405.9) translate(431)"/>
<circle r="4.8" transform="rotate(407.3) translate(432)"/>
<circle r="4.8" transform="rotate(408.8) translate(432)"/>
<circle r="4.8" transform="rotate(410.2) translate(433)"/>
<circle r="4.8" transform="rotate(411.7) translate(433)"/>
<circle r="4.8" transform="rotate(413.1) translate(433)"/>
<circle r="4.8" transform="rotate(414.5) translate(451)"/>
<circle r="4.8" transform="rotate(415.9) translate(443)"/>
<circle r="4.8" transform="rotate(417.3) translate(442)"/>
<circle r="4.8" transform="rotate(418.7) translate(441)"/>
<circle r="4.8" transform="rotate(420.4) translate(443)"/>
<circle r="4.8" transform="rotate(421.8) translate(442)"/>
<circle r="4.8" transform="rotate(426.1) translate(432)"/>
<circle r="4.8" transform="rotate(427.6) translate(432)"/>
<circle r="4.8" transform="rotate(429) translate(432)"/>
<circle r="4.8" transform="rotate(430.5) translate(432)"/>
<circle r="4.8" transform="rotate(431.9) translate(432)"/>
<circle r="4.8" transform="rotate(433.4) translate(432)"/>
<circle r="4.8" transform="rotate(434.8) translate(432)"/>
<circle r="4.8" transform="rotate(436.3) translate(432)"/>
<circle r="4.8" transform="rotate(437.7) translate(432)"/>
<circle r="4.8" transform="rotate(439.2) translate(432)"/>
<circle r="4.8" transform="rotate(440.6) translate(432)"/>
<circle r="4.8" transform="rotate(442.1) translate(432)"/>
<circle r="4.8" transform="rotate(443.5) translate(432)"/>
<circle r="4.8" transform="rotate(445) translate(432)"/>
<circle r="4.8" transform="rotate(446.4) translate(432)"/>
<circle r="4.8" transform="rotate(447.9) translate(432)"/>
</g>
<circle fill="#f07880" r="4.8" transform="rotate(356.8) translate(425)"/>
<g fill="#e010c8"><use href="#pent" transform="rotate(423.3) translate(429) rotate(-423.3)"/><use href="#pent" transform="rotate(424.6) translate(429) rotate(-424.6)"/></g>
</g>

<g class="lb">
<text transform="rotate(89.4) translate(606) rotate(-90)">A</text>
<text transform="rotate(90.8) translate(606) rotate(-90)">B</text>
<text transform="rotate(92.9) translate(606) rotate(-90)">C</text>
<text transform="rotate(96.4) translate(606) rotate(-90)">D</text>
<text transform="rotate(102.3) translate(606) rotate(-90)">Photorhabdus</text>
<text transform="rotate(109.6) translate(606) rotate(-90)">Xenorhabdus</text>
<text transform="rotate(114.8) translate(606) rotate(-90)">E</text>
<text transform="rotate(119.1) translate(606) rotate(-90)">Providencia</text>
<text transform="rotate(125.8) translate(606) rotate(-90)">Proteus</text>
<text transform="rotate(133) translate(606) rotate(-90)">Morganella</text>
<text transform="rotate(140) translate(606) rotate(-90)">Hafnia</text>
<text transform="rotate(144.4) translate(606) rotate(-90)">F</text>
<text transform="rotate(145.8) translate(606) rotate(-90)">G</text>
<text transform="rotate(150.2) translate(606) rotate(-90)">Rahnella</text>
<text transform="rotate(157.7) translate(606) rotate(-90)">Yersinia</text>
<text transform="rotate(164.9) translate(606) rotate(-90)">Serratia</text>
<text transform="rotate(172) translate(606) rotate(-90)">H</text>
<text transform="rotate(174.1) translate(606) rotate(-90)">I</text>
<text transform="rotate(179.2) translate(606) rotate(-90)">Pectobacterium</text>
<text transform="rotate(184.9) translate(606) rotate(90)">J</text>
<text transform="rotate(197.8) translate(606) rotate(90)">Edwardsiella</text>
<text transform="rotate(205.6) translate(606) rotate(90)">Erwinia</text>
<text transform="rotate(210.8) translate(606) rotate(90)">K</text>
<text transform="rotate(213.6) translate(606) rotate(90)">Tatumella</text>
<text transform="rotate(220.1) translate(606) rotate(90)">Pantoea</text>
<text transform="rotate(226.1) translate(606) rotate(90)">L</text>
<text transform="rotate(240.2) translate(606) rotate(90)">M</text>
<text transform="rotate(242.3) translate(606) rotate(90)">N</text>
<text transform="rotate(248) translate(606) rotate(90)">Franconibacter</text>
<text transform="rotate(276.3) translate(606) rotate(90)">Salmonella</text>
<text transform="rotate(287.8) translate(606) rotate(90)">Shigella</text>
<text transform="rotate(295.4) translate(606) rotate(90)">O</text>
<text transform="rotate(304.1) translate(606) rotate(90)">Pluralibacter</text>
<text transform="rotate(309.2) translate(606) rotate(90)">P</text>
<text transform="rotate(314.2) translate(606) rotate(90)">Trabulsiella</text>
<text transform="rotate(321.5) translate(606) rotate(90)">Raoultella</text>
<text transform="rotate(328.8) translate(606) rotate(90)">Klebsiella</text>
<text transform="rotate(336.8) translate(606) rotate(90)">E.aerogenes</text>
<text transform="rotate(353.4) translate(606) rotate(90)">E.ludwigii</text>
<text transform="rotate(356.4) translate(606) rotate(90)">Q</text>
<text transform="rotate(378.8) translate(606) rotate(-90)">E.hormaechei</text>
<text transform="rotate(408.7) translate(606) rotate(-90)">E.kobei</text>
<text transform="rotate(418.2) translate(606) rotate(-90)">E.cloacae</text>
<text transform="rotate(435.5) translate(606) rotate(-90)">E.asburiae</text>
</g>

</g>
</g>
</svg>
</body></html>
